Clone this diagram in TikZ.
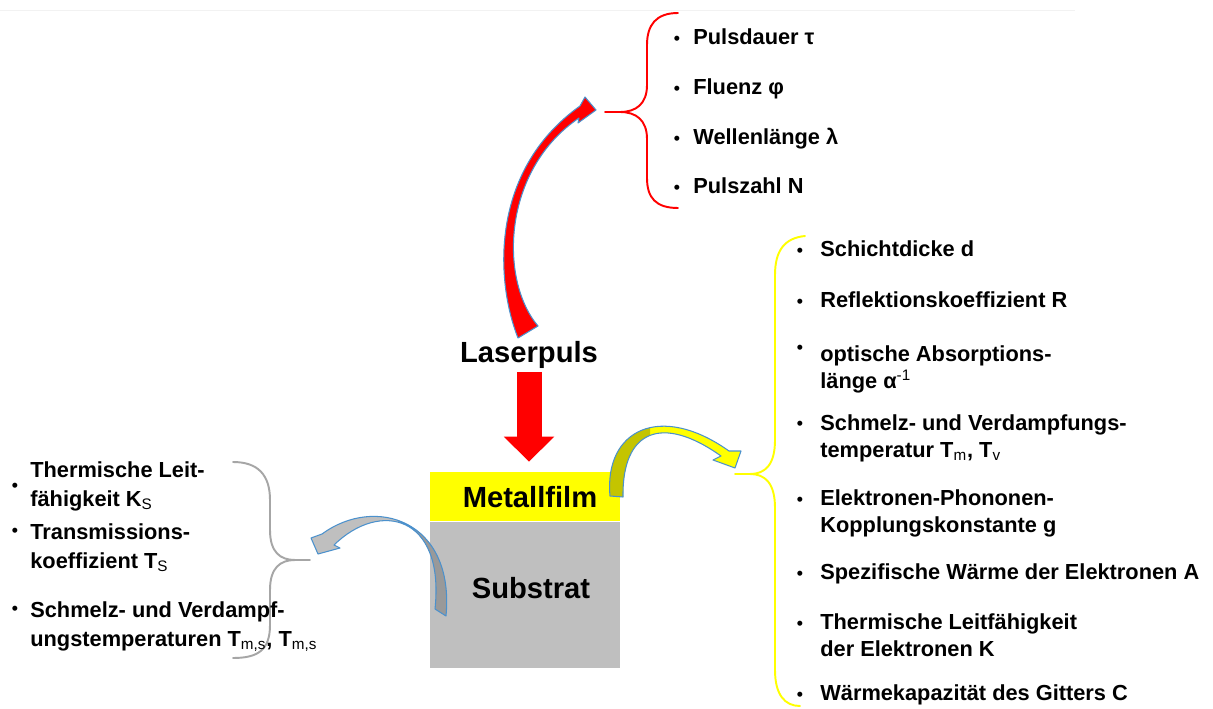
\documentclass[tikz,border=0pt]{standalone}
\usepackage{fontspec}
\setmainfont{Liberation Sans}
\usetikzlibrary{arrows.meta,positioning}
\definecolor{pulsred}{RGB}{255,0,0}
\definecolor{filmyellow}{RGB}{255,255,0}
\definecolor{filmolive}{RGB}{196,196,0}
\definecolor{substratgrey}{RGB}{191,191,191}
\definecolor{substratdark}{RGB}{153,153,153}
\definecolor{edgeblue}{RGB}{75,145,205}
\definecolor{bracegrey}{RGB}{166,166,166}
\newcommand{\itemfont}{\fontsize{12.4}{15.3}\selectfont\bfseries}

\begin{document}
\begin{tikzpicture}[x=0.02cm,y=-0.02cm,line join=round,
  bigtext/.style={font=\fontsize{16.6}{19}\selectfont\bfseries,inner sep=0pt},
  itemtext/.style={font=\itemfont,align=left,anchor=base west,inner sep=0pt},
  bulletmark/.style={font=\fontsize{10}{11}\selectfont\bfseries,anchor=base,inner sep=0pt},
  bracepath/.style={line width=1.1pt,line cap=round}]
 \useasboundingbox (0,0) rectangle (1213,709);
 \fill[white] (0,0) rectangle (1213,709);
 \draw[gray!10] (0,10) -- (1075,10);

 % schichtsystem
 \node[fill=filmyellow,minimum width=3.8cm,minimum height=0.98cm,inner sep=0pt]
  (film) at (525,496.5) {};
 \node[fill=substratgrey,minimum width=3.8cm,minimum height=2.92cm,inner sep=0pt,
  below=0pt of film] (substrat) {};
 \node[bigtext] (filmlabel) at (530,497) {Metallfilm};
 \node[bigtext] (substratlabel) at (531,588) {Substrat};
 \node[bigtext] (laser) at (529,355) {Laserpuls};
 \draw[pulsred,line width=0.5cm,-{Triangle[width=0.98cm,length=0.5cm]},
  shorten <=0.06cm,shorten >=0.2cm] (laser.south) -- (laser.south |- film.north);

 % geschwungene pfeile
 \filldraw[fill=pulsred,draw=edgeblue,line width=0.6pt]
  (518,338) .. controls (495,280) and (490,170) .. (580,106)
  -- (585,97) -- (596,110) -- (578,123) -- (579,118)
  .. controls (502,170) and (499,280) .. (538,326) -- cycle;

 \fill[filmyellow]
  (610,496) .. controls (604,430) and (660,402) .. (729,451)
  -- (741,451) -- (735,468) -- (713,460) -- (721,456)
  .. controls (662,414) and (622,430) .. (623,497) -- cycle;
 \begin{scope}
  \clip (560,400) rectangle (650,520);
  \fill[filmolive]
   (610,496) .. controls (604,430) and (660,402) .. (729,451)
   -- (741,451) -- (735,468) -- (713,460) -- (721,456)
   .. controls (662,414) and (622,430) .. (623,497) -- cycle;
 \end{scope}
 \draw[edgeblue,line width=0.6pt]
  (610,496) .. controls (604,430) and (660,402) .. (729,451)
  -- (741,451) -- (735,468) -- (713,460) -- (721,456)
  .. controls (662,414) and (622,430) .. (623,497) -- cycle;

 \fill[substratgrey]
  (322,534) .. controls (375,495) and (455,520) .. (446,616)
  -- (435,609) .. controls (445,515) and (380,500) .. (334,545)
  -- (340,548) -- (318,554) -- (311,538) -- cycle;
 \begin{scope}
  \clip (398,500) rectangle (480,630);
  \fill[substratdark]
   (322,534) .. controls (375,495) and (455,520) .. (446,616)
   -- (435,609) .. controls (445,515) and (380,500) .. (334,545)
   -- (340,548) -- (318,554) -- (311,538) -- cycle;
 \end{scope}
 \draw[edgeblue,line width=0.6pt]
  (322,534) .. controls (375,495) and (455,520) .. (446,616)
  -- (435,609) .. controls (445,515) and (380,500) .. (334,545)
  -- (340,548) -- (318,554) -- (311,538) -- cycle;

 % klammern
 \draw[bracepath,pulsred]
  (678,13) .. controls (656,13) and (647,25) .. (647,45) -- (647,85)
  .. controls (647,104) and (636,112) .. (620,112) -- (605,112)
  -- (620,112) .. controls (636,112) and (647,120) .. (647,139) -- (647,178)
  .. controls (647,198) and (656,208) .. (678,208);
 \draw[bracepath,filmyellow]
  (805,236) .. controls (785,238) and (775,250) .. (775,275) -- (775,440)
  .. controls (775,465) and (765,474) .. (750,474) -- (735,474)
  -- (750,474) .. controls (765,474) and (775,483) .. (775,508) -- (775,670)
  .. controls (775,695) and (785,706) .. (800,706);
 \draw[bracepath,bracegrey]
  (233,462) .. controls (258,462) and (270,475) .. (270,500) -- (270,530)
  .. controls (270,552) and (280,560) .. (295,560) -- (310,560)
  -- (295,560) .. controls (280,560) and (270,568) .. (270,590) -- (270,625)
  .. controls (270,650) and (258,658) .. (233,658);

 % laserparameter
 \foreach \y/\txt [count=\i] in {37/{Pulsdauer τ},87/{Fluenz φ},
   137/{Wellenlänge λ},186/{Pulszahl N}}{
  \node[bulletmark] (pb\i) at (677,\y+8) {•};
  \node[itemtext] (p\i) at (693,\y+8) {\txt};
 }

 % filmparameter (y = letzte zeile, by = punkt)
 \foreach \y/\by/\txt [count=\i] in {249/249/{Schichtdicke d},
   300/300/{Reflektionskoeffizient R},
   380/346/{optische Absorptions-\\länge α\textsuperscript{\mdseries -1}},
   449/421/{Schmelz- und Verdampfungs-\\temperatur T\textsubscript{\mdseries m}, T\textsubscript{\mdseries v}},
   524/497/{Elektronen-Phononen-\\Kopplungskonstante g},
   571/571/{Spezifische Wärme der Elektronen A},
   648/621/{Thermische Leitfähigkeit\\der Elektronen K},
   692/692/{Wärmekapazität des Gitters C}}{
  \node[bulletmark] (fb\i) at (800,\by+8) {•};
  \node[itemtext] (f\i) at (820,\y+8) {\txt};
 }

 % substratparameter
 \foreach \y/\by/\txt [count=\i] in {
   498/483/{Thermische Leit-\\fähigkeit K\textsubscript{\mdseries S}},
   560/528/{Transmissions-\\koeffizient T\textsubscript{\mdseries S}},
   638/606/{Schmelz- und Verdampf-\\ungstemperaturen T\textsubscript{\mdseries m,s}, T\textsubscript{\mdseries m,s}}}{
  \node[bulletmark] (sb\i) at (15,\by+8) {•};
  \node[itemtext,font=\fontsize{12.4}{16}\selectfont\bfseries] (s\i) at (30,\y+8) {\txt};
 }
\end{tikzpicture}
\end{document}
